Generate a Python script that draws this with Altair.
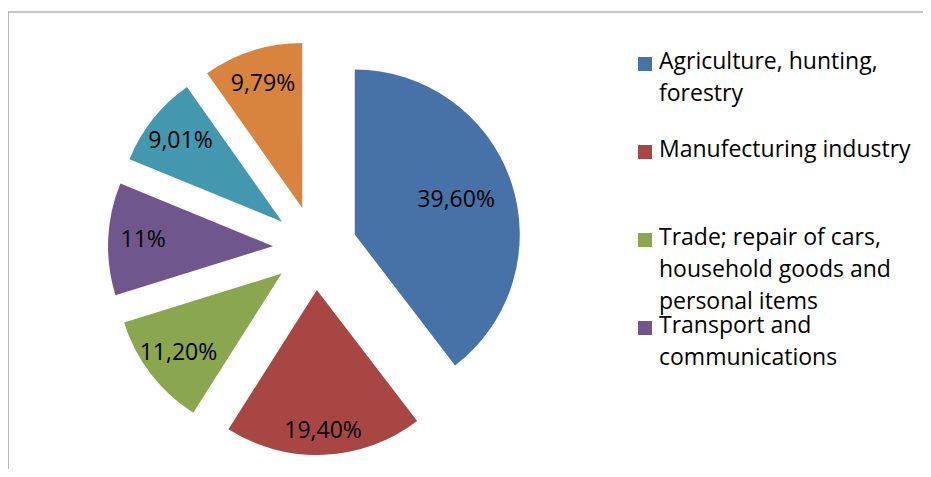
import altair as alt
import pandas as pd

# ---- data ----
categories = [
    "Agriculture, hunting, forestry",
    "Manufecturing industry",
    "Trade; repair of cars, household goods and personal items",
    "Transport and communications",
    "Other A",
    "Other B",
]
shares = [39.60, 19.40, 11.20, 11.00, 9.01, 9.79]
pct_labels = ["39,60%", "19,40%", "11,20%", "11%", "9,01%", "9,79%"]
colors = ["#4672A8", "#A84643", "#8AA64F", "#6F578D", "#4398AF", "#D9843E"]
legend_lines = [
    ["Agriculture, hunting,", "forestry"],
    ["Manufecturing industry"],
    ["Trade; repair of cars,", "household goods and", "personal items"],
    ["Transport and", "communications"],
]

# ---- layout constants ----
W, H = 915, 457
CX, CY = 307, 236      # pie centre in view pixels
EXPLODE = 42
R = 165
FONT = "Open Sans"
FS = 23

pie_df = pd.DataFrame({
    "cat": categories,
    "share": shares,
    "label": pct_labels,
    "order": list(range(len(categories))),
})
leg_df = pd.DataFrame({
    "cat": categories[:len(legend_lines)],
    "text": ["\n".join(l) for l in legend_lines],
    "entry": list(range(len(legend_lines))),
})

cscale = alt.Scale(domain=categories, range=colors)
xs = alt.Scale(domain=[-300, 300], range=[CX - 300, CX + 300], zero=False, nice=False)
ys = alt.Scale(domain=[-300, 300], range=[CY - 300, CY + 300], zero=False, nice=False)

base = (
    alt.Chart(pie_df)
    .transform_window(cum="sum(share)", sort=[alt.SortField("order")], frame=[None, 0])
    .transform_joinaggregate(total="sum(share)")
    .transform_calculate(t0="2*PI*(datum.cum - datum.share)/datum.total")
    .transform_calculate(t1="2*PI*datum.cum/datum.total")
    .transform_calculate(mid="(datum.t0 + datum.t1)/2")
    .transform_calculate(ox=f"{EXPLODE}*sin(datum.mid)")
    .transform_calculate(oy=f"-{EXPLODE}*cos(datum.mid)")
    .transform_calculate(lr="datum.share > 30 ? 107 : (datum.share > 15 ? 141 : 130)")
    .transform_calculate(lx=f"({EXPLODE}+datum.lr)*sin(datum.mid)")
    .transform_calculate(ly=f"-({EXPLODE}+datum.lr)*cos(datum.mid)")
)

arcs = base.mark_arc(outerRadius=R).encode(
    x=alt.X("ox:Q", scale=xs, axis=None),
    y=alt.Y("oy:Q", scale=ys, axis=None),
    theta=alt.Theta("t0:Q", scale=None),
    theta2="t1:Q",
    color=alt.Color("cat:N", scale=cscale, legend=None),
)

labels = base.mark_text(font=FONT, fontSize=FS, color="black", align="center", baseline="middle").encode(
    x=alt.X("lx:Q", scale=xs, axis=None),
    y=alt.Y("ly:Q", scale=ys, axis=None),
    text="label:N",
)

ly_scale = alt.Scale(domain=[0, 3], range=[52, 316], zero=False, nice=False)
leg = alt.Chart(leg_df)
leg_sq = leg.mark_square(size=196, opacity=1).encode(
    x=alt.value(637),
    y=alt.Y("entry:Q", scale=ly_scale, axis=None),
    color=alt.Color("cat:N", scale=cscale, legend=None),
)
leg_txt = leg.mark_text(
    align="left", baseline="alphabetic", dx=14, dy=5, lineBreak="\n",
    lineHeight=32, font=FONT, fontSize=FS, color="black",
).encode(
    x=alt.value(637),
    y=alt.Y("entry:Q", scale=ly_scale, axis=None),
    text="text:N",
)

frame_df = pd.DataFrame({"k": [0]})
frame_top = alt.Chart(frame_df).mark_rule(color="#8c8c8c", strokeWidth=1.2).encode(
    x=alt.value(0), x2=alt.value(W), y=alt.value(0)
)
frame_left = alt.Chart(frame_df).mark_rule(color="#8c8c8c", strokeWidth=1.2).encode(
    x=alt.value(0), y=alt.value(0), y2=alt.value(H)
)

chart = (
    alt.layer(frame_top, frame_left, arcs, labels, leg_sq, leg_txt)
    .resolve_scale(x="independent", y="independent")
    .properties(
        width=W, height=H, autosize="none",
        padding={"left": 0, "top": 4, "right": 0, "bottom": 0},
        background="white",
    )
    .configure_view(stroke=None)
)

chart.save("out.html", embed_options={"renderer": "svg", "actions": False})
